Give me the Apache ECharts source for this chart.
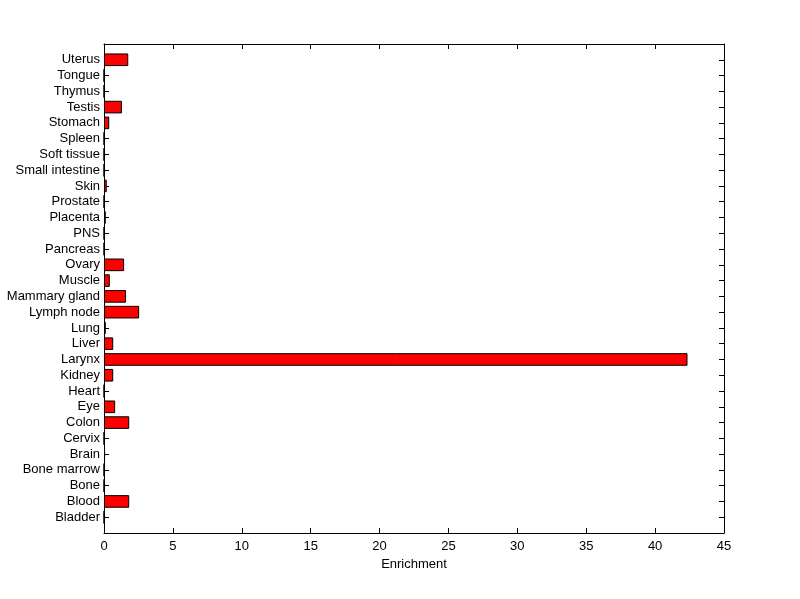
<!DOCTYPE html>
<html><head><meta charset="utf-8">
<script src="https://cdn.jsdelivr.net/npm/echarts@6/dist/echarts.min.js"></script>
<style>html,body{margin:0;padding:0;background:#fff}#c{width:800px;height:599px}</style>
</head><body><div id="c"></div>
<script>
const tissues = ['Bladder','Blood','Bone','Bone marrow','Brain','Cervix','Colon','Eye','Heart','Kidney','Larynx','Liver','Lung','Lymph node','Mammary gland','Muscle','Ovary','Pancreas','PNS','Placenta','Prostate','Skin','Small intestine','Soft tissue','Spleen','Stomach','Testis','Thymus','Tongue','Uterus'];
const enrichment = [0,1.83,0,0,0.08,0,1.83,0.81,0,0.67,42.35,0.67,0.13,2.55,1.6,0.42,1.46,0,0,0.13,0,0.2,0,0,0,0.38,1.3,0,0,1.76];
const xTicks = [0,5,10,15,20,25,30,35,40,45];

const cats = [''].concat(tissues, ['']);
const vals = [null].concat(enrichment, [null]);
const font = 'Liberation Sans, Arial, sans-serif';
const chart = echarts.init(document.getElementById('c'), null, {renderer:'canvas'});
const axLine = {show:true,onZero:false,lineStyle:{color:'#000',width:1}};
const axTick = {show:true,inside:true,length:5,lineStyle:{color:'#000'}};
chart.setOption({
  backgroundColor:'#fff',
  animation:false,
  grid:{left:104,right:76,top:44,bottom:66,containLabel:false},
  xAxis:[{
    type:'value', min:xTicks[0], max:xTicks[xTicks.length-1], interval:5, position:'bottom',
    name:'Enrichment', nameLocation:'middle', nameGap:24,
    nameTextStyle:{color:'#000',fontFamily:font,fontSize:13},
    axisLine:axLine, axisTick:axTick,
    axisLabel:{color:'#000',fontFamily:font,fontSize:13,margin:7},
    splitLine:{show:false}
  },{
    type:'value', min:xTicks[0], max:xTicks[xTicks.length-1], interval:5, position:'top',
    axisLine:axLine, axisTick:axTick,
    axisLabel:{show:false}, splitLine:{show:false}
  }],
  yAxis:[{
    type:'category', data:cats, boundaryGap:false, position:'left',
    axisLine:axLine, axisTick:axTick,
    axisLabel:{color:'#000',fontFamily:font,fontSize:13,margin:4,interval:0,verticalAlign:'middle',padding:[4,0,0,0]},
    splitLine:{show:false}
  },{
    type:'category', data:cats, boundaryGap:false, position:'right',
    axisLine:axLine, axisTick:axTick,
    axisLabel:{show:false}, splitLine:{show:false}
  }],
  series:[{
    type:'bar', data:vals, xAxisIndex:0, yAxisIndex:0, barWidth:'80%',
    itemStyle:{color:'#ff0000',borderColor:'#000',borderWidth:1}
  }]
});
</script></body></html>
